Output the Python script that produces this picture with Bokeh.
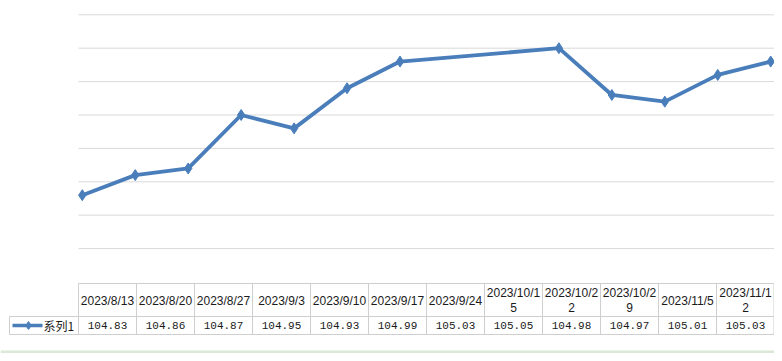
import pandas as pd
from bokeh.plotting import figure
from bokeh.models import Range1d, ColumnDataSource
from bokeh.core.properties import value
from bokeh.embed import file_html
from bokeh.resources import INLINE

# ---------------- data ----------------
dates = ["2023/8/13", "2023/8/20", "2023/8/27", "2023/9/3", "2023/9/10", "2023/9/17",
         "2023/9/24", "2023/10/15", "2023/10/22", "2023/10/29", "2023/11/5", "2023/11/12"]
header_labels = ["2023/8/13", "2023/8/20", "2023/8/27", "2023/9/3", "2023/9/10", "2023/9/17",
                 "2023/9/24", "2023/10/1\n5", "2023/10/2\n2", "2023/10/2\n9", "2023/11/5", "2023/11/1\n2"]
values = [104.83, 104.86, 104.87, 104.95, 104.93, 104.99,
          105.03, 105.05, 104.98, 104.97, 105.01, 105.03]
series_name = "系列1"
y_ticks = [104.75, 104.80, 104.85, 104.90, 104.95, 105.00, 105.05, 105.10]
y_min, y_max = 104.70, 105.10

# ---------------- layout constants (pixels in figure) ----------------
W, H = 774, 353
plot_left, plot_right = 78, 774
plot_top, plot_bottom = 14.3, 281.5
LINE_COLOR = "#4A7EBB"
GRID_COLOR = "#d9d9d9"
TABLE_COLOR = "#cfcfcf"
TEXT_COLOR = "#1a1a1a"

x_dates = pd.to_datetime(dates, format="%Y/%m/%d")
day = pd.Timedelta(days=1)
x0 = x_dates[0] - 0.5 * day
x1 = x_dates[-1] + 0.5 * day
n_days = (x1 - x0) / day
px_per_day = (plot_right - plot_left) / n_days
x_start = x0 - (plot_left / px_per_day) * day
x_end = x1 + ((W - plot_right) / px_per_day) * day

ppu = (plot_bottom - plot_top) / (y_max - y_min)
y_start = y_min - (H - plot_bottom) / ppu
y_end = y_max + plot_top / ppu

p = figure(width=W, height=H, output_backend="svg", toolbar_location=None,
           x_axis_type=None, y_axis_type=None,
           x_range=Range1d(x_start, x_end), y_range=Range1d(y_start, y_end),
           min_border=0, outline_line_color=None)
p.grid.visible = False
p.background_fill_color = "white"
p.border_fill_color = "white"
p.extra_x_ranges = {"px": Range1d(0, W)}
p.extra_y_ranges = {"px": Range1d(H, 0)}

# gridlines
p.segment(x0=[x0] * len(y_ticks), x1=[x1] * len(y_ticks), y0=y_ticks, y1=y_ticks,
          line_color=GRID_COLOR, line_width=1)

# series
src = ColumnDataSource(dict(x=x_dates, y=values))
p.line("x", "y", source=src, line_color=LINE_COLOR, line_width=3.8, line_join="round")
p.scatter("x", "y", source=src, marker="diamond", size=11,
          fill_color=LINE_COLOR, line_color=LINE_COLOR)

# ---------------- data table ----------------
n = len(dates)
col_w = (plot_right - plot_left) / n
t_top, t_mid, t_bot = 283, 316, 334
leg_left = 9
kw = dict(x_range_name="px", y_range_name="px")

p.segment(x0=[plot_left, leg_left, leg_left], x1=[W, W, W],
          y0=[t_top, t_mid, t_bot], y1=[t_top, t_mid, t_bot],
          line_color=TABLE_COLOR, line_width=1, **kw)
vx = [plot_left + k * col_w for k in range(n)] + [W - 0.5]
p.segment(x0=vx, x1=vx, y0=[t_top] * len(vx), y1=[t_bot] * len(vx),
          line_color=TABLE_COLOR, line_width=1, **kw)
p.segment(x0=[leg_left], x1=[leg_left], y0=[t_mid], y1=[t_bot],
          line_color=TABLE_COLOR, line_width=1, **kw)

centers = [plot_left + (k + 0.5) * col_w for k in range(n)]
p.text(x=centers, y=[(t_top + t_mid) / 2 + 0.5] * n, text=header_labels,
       text_font=value("Liberation Sans"), text_font_size="12px", text_color=TEXT_COLOR,
       text_align="center", text_baseline="middle", text_line_height=1.1, **kw)
p.text(x=centers, y=[(t_mid + t_bot) / 2] * n, text=[f"{v:.2f}" for v in values],
       text_font=value("Liberation Mono"), text_font_size="11px", text_color=TEXT_COLOR,
       text_align="center", text_baseline="middle", **kw)

# legend key
ly = (t_mid + t_bot) / 2
p.line(x=[12, 42], y=[ly, ly], line_color=LINE_COLOR, line_width=3.5, **kw)
p.scatter(x=[28], y=[ly], marker="diamond", size=8, fill_color=LINE_COLOR,
          line_color=LINE_COLOR, **kw)
p.text(x=[43], y=[ly], text=[series_name], text_font=value("Noto Sans CJK SC"),
       text_font_size="12px", text_color=TEXT_COLOR, text_align="left",
       text_baseline="middle", **kw)

# sheet strip at bottom edge
p.quad(left=[0], right=[W], top=[350], bottom=[H], fill_color="#d9e9d6",
       line_color=None, **kw)

open("out.html", "w").write(file_html(p, INLINE))
